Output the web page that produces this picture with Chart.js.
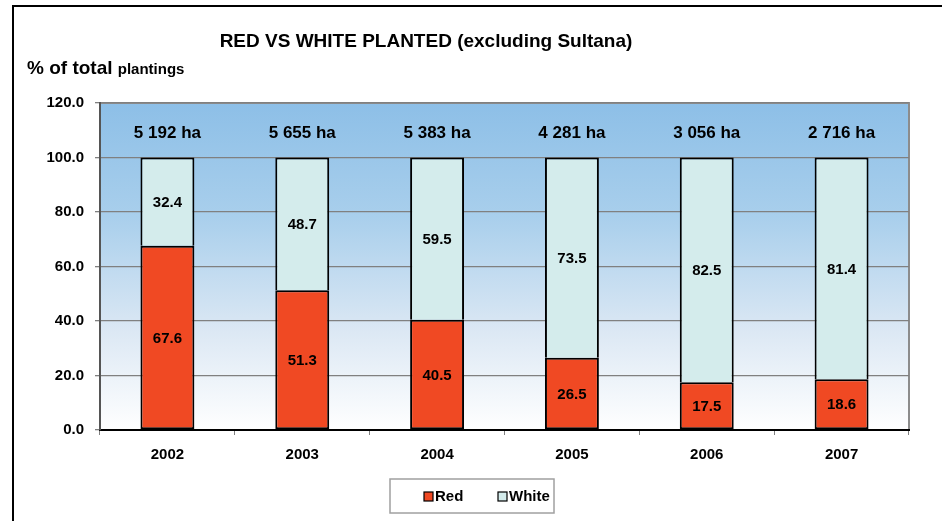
<!DOCTYPE html>
<html>
<head>
<meta charset="utf-8">
<script src="https://cdn.jsdelivr.net/npm/chart.js@4.4.1/dist/chart.umd.min.js"></script>
<style>
html,body{margin:0;padding:0;background:#fff;}
#wrap{width:942px;height:521px;position:relative;}
</style>
</head>
<body>
<div id="wrap"><canvas id="c" width="942" height="521"></canvas></div>
<script>
const years = ['2002','2003','2004','2005','2006','2007'];
const redValues = [67.6, 51.3, 40.5, 26.5, 17.5, 18.6];
const whiteValues = [32.4, 48.7, 59.5, 73.5, 82.5, 81.4];
const hectareLabels = ['5 192 ha','5 655 ha','5 383 ha','4 281 ha','3 056 ha','2 716 ha'];
const yTicks = [0, 20, 40, 60, 80, 100, 120];
const titleText = 'RED VS WHITE PLANTED (excluding Sultana)';
const seriesNames = ['Red', 'White'];

const FONT = 'Arial, "Liberation Sans", sans-serif';
const RED = '#F04923';
const WHITE = '#D4ECEC';

const decor = {
  id: 'decor',
  beforeDraw(chart) {
    const ctx = chart.ctx;
    const a = chart.chartArea;
    ctx.save();
    ctx.fillStyle = '#fff';
    ctx.fillRect(0, 0, chart.width, chart.height);
    // outer frame
    ctx.strokeStyle = '#000';
    ctx.lineWidth = 2;
    ctx.beginPath();
    ctx.moveTo(13, chart.height + 2);
    ctx.lineTo(13, 6);
    ctx.lineTo(chart.width + 2, 6);
    ctx.stroke();
    // plot background gradient
    const g = ctx.createLinearGradient(0, a.top, 0, a.bottom);
    g.addColorStop(0, '#8DBFE7');
    g.addColorStop(0.35, '#A9CFEC');
    g.addColorStop(0.7, '#DCE8F4');
    g.addColorStop(1, '#FFFFFF');
    ctx.fillStyle = g;
    ctx.fillRect(a.left, a.top, a.right - a.left, a.bottom - a.top);
    // plot border top/right
    ctx.strokeStyle = '#8C8C8C';
    ctx.lineWidth = 2;
    ctx.beginPath();
    ctx.moveTo(a.left, a.top);
    ctx.lineTo(a.right, a.top);
    ctx.lineTo(a.right, a.bottom);
    ctx.stroke();
    ctx.restore();
  },
  afterDatasetsDraw(chart) {
    const ctx = chart.ctx;
    const xs = chart.scales.x, ys = chart.scales.y;
    ctx.save();
    ctx.fillStyle = '#000';
    ctx.textAlign = 'center';
    ctx.textBaseline = 'middle';
    // title
    ctx.font = 'bold 19px ' + FONT;
    ctx.fillText(titleText, 426, 42);
    // y-axis title
    ctx.textAlign = 'left';
    ctx.font = 'bold 19px ' + FONT;
    ctx.fillText('% of total', 27, 69);
    const w1 = ctx.measureText('% of total ').width;
    ctx.font = 'bold 15px ' + FONT;
    ctx.fillText('plantings', 27 + w1, 70);
    // value labels inside bars
    ctx.textAlign = 'center';
    ctx.font = 'bold 15px ' + FONT;
    chart.data.datasets.forEach((ds, di) => {
      const meta = chart.getDatasetMeta(di);
      meta.data.forEach((bar, i) => {
        const v = ds.data[i];
        const yc = (bar.y + bar.base) / 2;
        ctx.fillText(v.toFixed(1), bar.x, yc + 1);
      });
    });
    // hectare labels
    ctx.font = 'bold 17px ' + FONT;
    hectareLabels.forEach((t, i) => {
      ctx.fillText(t, xs.getPixelForValue(i), ys.getPixelForValue(108.8));
    });
    // legend
    const lx = 390, ly = 479, lw = 164, lh = 34;
    ctx.strokeStyle = '#A0A0A0';
    ctx.lineWidth = 1.5;
    ctx.strokeRect(lx, ly, lw, lh);
    const items = [{x: 424, c: RED, t: seriesNames[0]}, {x: 498, c: WHITE, t: seriesNames[1]}];
    ctx.font = 'bold 15px ' + FONT;
    ctx.textAlign = 'left';
    items.forEach(it => {
      ctx.fillStyle = it.c;
      ctx.fillRect(it.x, ly + 13, 9, 9);
      ctx.strokeStyle = '#000';
      ctx.lineWidth = 1.2;
      ctx.strokeRect(it.x, ly + 13, 9, 9);
      ctx.fillStyle = '#000';
      ctx.fillText(it.t, it.x + 11, ly + 18);
    });
    ctx.restore();
  }
};

new Chart(document.getElementById('c'), {
  type: 'bar',
  data: {
    labels: years,
    datasets: [
      {label: seriesNames[0], data: redValues, backgroundColor: RED, borderColor: '#000', borderWidth: 2, borderSkipped: false, barPercentage: 0.4, categoryPercentage: 1},
      {label: seriesNames[1], data: whiteValues, backgroundColor: WHITE, borderColor: '#000', borderWidth: 2, borderSkipped: 'bottom', barPercentage: 0.4, categoryPercentage: 1}
    ]
  },
  options: {
    responsive: false,
    animation: false,
    devicePixelRatio: 1,
    layout: {padding: {left: 0, top: 103, right: 33, bottom: 0}},
    plugins: {legend: {display: false}, title: {display: false}, tooltip: {enabled: false}},
    scales: {
      x: {
        stacked: true,
        offset: true,
        afterFit(s) { s.height = 91; },
        grid: {offset: true, drawOnChartArea: false, tickLength: 5, color: '#808080', lineWidth: 1},
        border: {color: '#000', width: 2},
        ticks: {color: '#000', font: {family: FONT, size: 15, weight: 'bold'}, padding: 11}
      },
      y: {
        stacked: true,
        min: 0, max: 120,
        afterFit(s) { s.width = 100; },
        afterBuildTicks(s) { s.ticks = yTicks.map(v => ({value: v})); },
        grid: {color: '#808080', lineWidth: 1.3, tickLength: 5},
        border: {color: '#555', width: 2},
        ticks: {color: '#000', font: {family: FONT, size: 15, weight: 'bold'}, padding: 11, callback: v => Number(v).toFixed(1)}
      }
    }
  },
  plugins: [decor]
});
</script>
</body>
</html>
